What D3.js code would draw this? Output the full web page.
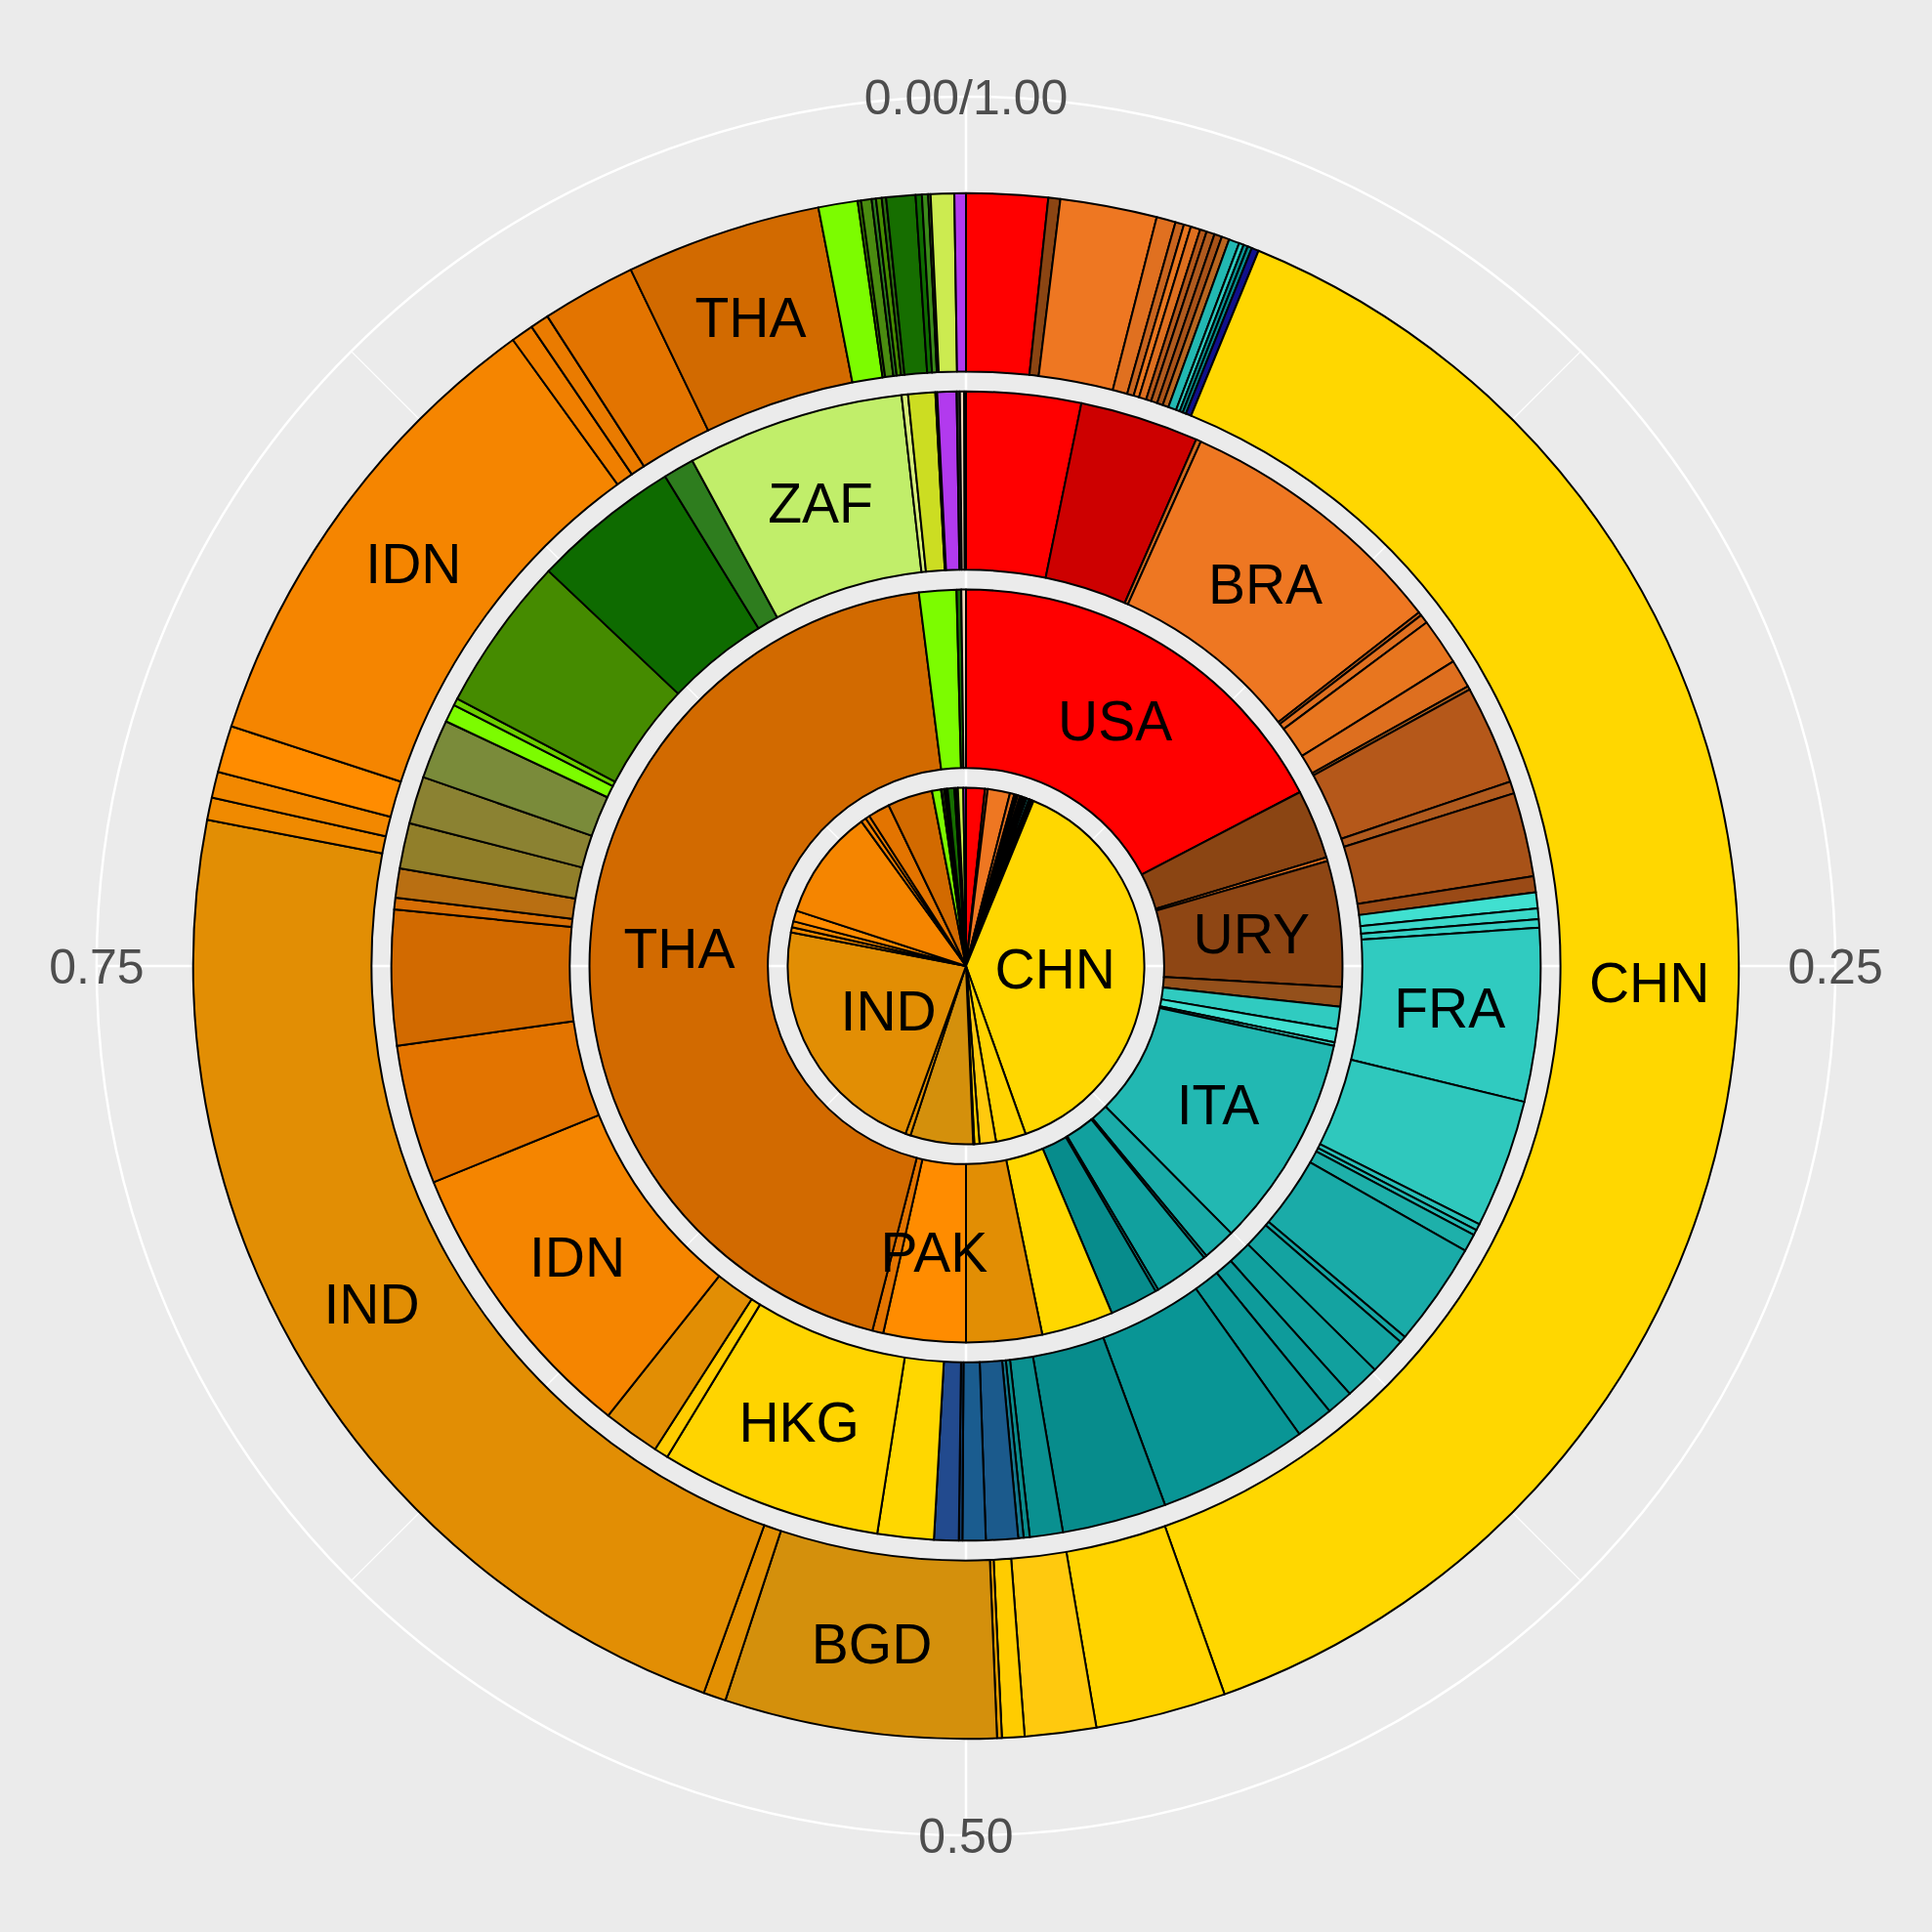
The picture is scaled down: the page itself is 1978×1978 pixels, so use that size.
<!DOCTYPE html>
<html>
<head>
<meta charset="utf-8">
<script src="https://cdn.jsdelivr.net/npm/d3@7"></script>
<style>
  body { margin: 0; background: #ebebeb; }
  text { font-family: "Liberation Sans", Arial, Helvetica, sans-serif; }
</style>
</head>
<body>
<script>

// outer ring (x = 4); the centre pie (x = 1) shows the same shares
const ring4Codes = ['USA','ARG','BRA','COL','ECU','PER','CHL','VEN','CUB','GTM','BOL','ITA','FRA','GBR','RUS','ISR',
                    'CHN','JPN','KOR','TWN','MNG','BGD','LKA','IND','MMR','KHM','PAK','IDN','PHL','LAO','VNM','THA',
                    'EGY','TZA','DZA','KEN','NGA','UGA','GHA','ETH','CMR','SDN','MAR','AUS'];
const ring4Shares = [0.0170,0.0025,0.0202,0.0040,0.0018,0.0015,0.0020,0.0014,0.0017,0.0016,0.0016,0.0022,0.0010,0.0009,0.0009,0.0015,
                     0.3839,0.0273,0.0149,0.0047,0.0010,0.0568,0.0047,0.2252,0.0047,0.0054,0.0098,0.1001,0.0047,0.0039,0.0197,0.0408,
                     0.0082,0.0007,0.0022,0.0009,0.0012,0.0009,0.0061,0.0013,0.0013,0.0005,0.0049,0.0024];
const ring4Labels = ['CHN','BGD','IND','IDN','THA'];

const ring1Codes = ring4Codes;
const ring1Shares = ring4Shares;
const ring1Labels = ['CHN','IND'];

const ring2Codes = ['USA','ARG','BRA','URY','PRY','FRA','ESP','PRT','ITA','BEL','DEU','CHE','POL','RUS',
                    'CHN','IND','PAK','VNM','THA','EGY','GHA','NZL'];
const ring2Shares = [0.1736,0.0298,0.0016,0.0539,0.0084,0.0096,0.0056,0.0015,0.0916,0.0142,0.0012,0.0237,0.0013,0.0207,
                     0.0308,0.0325,0.0353,0.0047,0.4400,0.0160,0.0020,0.0020];
const ring2Labels = ['USA','URY','ITA','PAK','THA'];

const ring3Codes = ['USA','CAN','MEX','BRA','ECU','COL','PER','CHL','BOL','VEN','CUB','GTM','HND',
                    'ESP','PRT','GRC','FRA','LUX','IRL','ISL','NLD','BEL','DEU','AUT','CHE','CZE','POL','GBR','RUS',
                    'TUR','UKR','SWE','NOR','DNK','HUN','FIN',
                    'CHN','HKG','TWN','IND','IDN','VNM','THA','MYS','SGP','IRN','IRQ','SAU',
                    'EGY','LBY','NGA','ETH','KEN','ZAF','NAM','TUN','SEN','AUS','FJI','NZL','PNG'];
const ring3Shares = [0.0322,0.0334,0.0014,0.0775,0.0010,0.0025,0.0131,0.0080,0.0010,0.0279,0.0034,0.0236,0.0045,
                     0.0045,0.0030,0.0024,0.0486,0.0362,0.0018,0.0015,0.0050,0.0292,0.0018,0.0105,0.0096,0.0074,0.0105,0.0422,0.0293,
                     0.0093,0.0017,0.0015,0.0090,0.0065,0.0010,0.0069,
                     0.0158,0.0623,0.0040,0.0160,0.0816,0.0392,0.0379,0.0033,0.0082,0.0128,0.0133,0.0167,
                     0.0050,0.0020,0.0436,0.0417,0.0087,0.0611,0.0018,0.0076,0.0005,0.0054,0.0009,0.0012,0.0005];
const ring3Labels = ['BRA','FRA','HKG','IDN','ZAF'];

const thetaBreaks = [0, 0.25, 0.5, 0.75];
const thetaLabels = ['0.00/1.00', '0.25', '0.50', '0.75'];
const thetaMinor = [0.125, 0.375, 0.625, 0.875];

const countryColors = {
    USA:'#FF0000', CAN:'#CD0000', MEX:'#D2691E', BRA:'#EE7722', ARG:'#8B4513', URY:'#8E4614', PRY:'#94501B',
    COL:'#E07020', ECU:'#C8641E', PER:'#E8761F', CHL:'#DE6F1F', VEN:'#B5581A', CUB:'#B05A1E', GTM:'#A85218',
    BOL:'#B8651F', HND:'#9A4A16',
    FRA:'#30CBC0', ESP:'#40E0D0', PRT:'#3AD8C9', GRC:'#36D2C6', LUX:'#2FC8BD', IRL:'#2AC0B8', ISL:'#25BAB4',
    ITA:'#22B8B2', NLD:'#1EB0AA', BEL:'#1AABA8', DEU:'#16A6A4', AUT:'#14A3A1', CHE:'#11A09E', CZE:'#0E9B9B',
    POL:'#0C9898', GBR:'#099595', RUS:'#078C8C', TUR:'#0A9090', UKR:'#0B8D8D', SWE:'#157A90', NOR:'#1B5A8C',
    DNK:'#1A5C8F', HUN:'#123F6F', FIN:'#224A8E', ISR:'#10108B',
    CHN:'#FFD700', HKG:'#FFD400', JPN:'#FFD300', KOR:'#FFC90E', TWN:'#FFCC00', MNG:'#E8A000', BGD:'#D4900C',
    LKA:'#E39003', IND:'#E28E04', MMR:'#F08A00', KHM:'#F28800', PAK:'#FF8C00', IDN:'#F58500', PHL:'#F07F00',
    LAO:'#EA7B00', VNM:'#E37400', THA:'#D26A00', MYS:'#D86E05', SGP:'#B96F12', IRN:'#917F2A', IRQ:'#8B8232',
    SAU:'#7A8B3A',
    EGY:'#7CFC00', LBY:'#6CD000', TZA:'#3A7D00', DZA:'#4A8B10', KEN:'#2E7D1E', NGA:'#458B00', UGA:'#2A6E10',
    GHA:'#166E00', ETH:'#0E6B00', CMR:'#3B8A1A', SDN:'#5A9A20', MAR:'#CCEB50', ZAF:'#C1EE6A', NAM:'#D8F07A',
    TUN:'#CCDD22', SEN:'#9ACD32',
    AUS:'#B23AEE', NZL:'#EED5B7', FJI:'#2A2A2A', PNG:'#8B6914'
};

const size = 1978;
const cx = size / 2;
const cy = size / 2;

const rings = [
    { x: 1, codes: ring1Codes, shares: ring1Shares, labels: ring1Labels },
    { x: 2, codes: ring2Codes, shares: ring2Shares, labels: ring2Labels },
    { x: 3, codes: ring3Codes, shares: ring3Shares, labels: ring3Labels },
    { x: 4, codes: ring4Codes, shares: ring4Shares, labels: ring4Labels }
];

// stack every ring to 1
const slices = rings.flatMap((ring) => {
    const total = d3.sum(ring.shares);
    const ends = d3.cumsum(ring.shares);
    return ring.codes.map((code, i) => ({
        x: ring.x,
        code: code,
        start: (ends[i] - ring.shares[i]) / total,
        end: ends[i] / total,
        labelled: ring.labels.includes(code)
    }));
});

const theta = d3.scaleLinear().domain([0, 1]).range([0, 2 * Math.PI]);
const rScale = d3.scaleLinear().domain([0.55, 4.45]).range([0, 0.4 * size]);
const color = d3.scaleOrdinal()
    .domain(Object.keys(countryColors))
    .range(Object.values(countryColors));

const arc = d3.arc()
    .innerRadius((d) => rScale(d.x - 0.45))
    .outerRadius((d) => rScale(d.x + 0.45))
    .startAngle((d) => theta(d.start))
    .endAngle((d) => theta(d.end));

const svg = d3.select('body')
    .append('svg')
    .attr('width', size)
    .attr('height', size);

svg.append('rect')
    .attr('width', size)
    .attr('height', size)
    .attr('fill', '#ebebeb');

const panel = svg.append('g')
    .attr('transform', 'translate(' + cx + ',' + cy + ')');

// polar grid
const gridR = 0.45 * size;

panel.selectAll('line.minor')
    .data(thetaMinor)
    .enter()
    .append('line')
    .attr('class', 'minor')
    .attr('x1', 0).attr('y1', 0)
    .attr('x2', (d) => gridR * Math.sin(theta(d)))
    .attr('y2', (d) => -gridR * Math.cos(theta(d)))
    .attr('stroke', '#ffffff')
    .attr('stroke-width', 1.3);

panel.selectAll('line.major')
    .data(thetaBreaks)
    .enter()
    .append('line')
    .attr('class', 'major')
    .attr('x1', 0).attr('y1', 0)
    .attr('x2', (d) => gridR * Math.sin(theta(d)))
    .attr('y2', (d) => -gridR * Math.cos(theta(d)))
    .attr('stroke', '#ffffff')
    .attr('stroke-width', 2.5);

panel.selectAll('circle.grid')
    .data([rScale(1), rScale(2), rScale(3), rScale(4), gridR])
    .enter()
    .append('circle')
    .attr('class', 'grid')
    .attr('r', (d) => d)
    .attr('fill', 'none')
    .attr('stroke', '#ffffff')
    .attr('stroke-width', 2.5);

// rings
panel.selectAll('path.slice')
    .data(slices)
    .enter()
    .append('path')
    .attr('class', 'slice')
    .attr('d', arc)
    .attr('fill', (d) => color(d.code))
    .attr('stroke', '#000000')
    .attr('stroke-width', 2)
    .attr('stroke-linejoin', 'round');

panel.selectAll('text.label')
    .data(slices.filter((d) => d.labelled))
    .enter()
    .append('text')
    .attr('class', 'label')
    .attr('x', (d) => arc.centroid(d)[0])
    .attr('y', (d) => arc.centroid(d)[1])
    .attr('dy', '0.358em')
    .attr('text-anchor', 'middle')
    .style('font-size', '57px')
    .style('fill', '#000000')
    .text((d) => d.code);

// theta axis labels
panel.selectAll('text.axis')
    .data(thetaBreaks)
    .enter()
    .append('text')
    .attr('class', 'axis')
    .attr('x', (d) => gridR * Math.sin(theta(d)))
    .attr('y', (d) => -gridR * Math.cos(theta(d)))
    .attr('dy', '0.358em')
    .attr('text-anchor', 'middle')
    .style('font-size', '50px')
    .style('fill', '#4d4d4d')
    .text((d, i) => thetaLabels[i]);

</script>
</body>
</html>
